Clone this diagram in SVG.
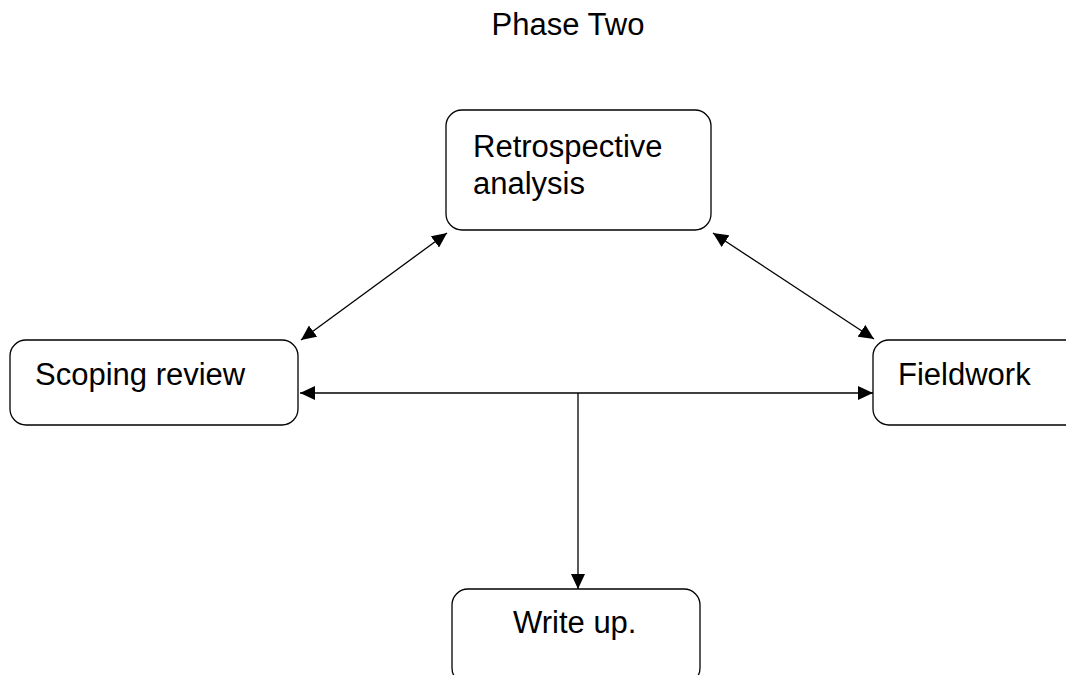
<svg xmlns="http://www.w3.org/2000/svg" width="1066" height="675" viewBox="0 0 1066 675">
<style>
.box{fill:#fff;stroke:#000;stroke-width:1.3}
.t{font-family:"Liberation Sans",Arial,sans-serif;font-size:31px;fill:#000}
.c{stroke:#000;stroke-width:1.3;fill:none}
</style>
<defs>
<marker id="ah" viewBox="0 0 15 14" refX="15" refY="7" markerWidth="15" markerHeight="14" markerUnits="userSpaceOnUse" orient="auto-start-reverse">
<path d="M0,0 L15,7 L0,14 z" fill="#000"/>
</marker>
</defs>
<rect width="1066" height="675" fill="#fff"/>
<text class="t" x="568" y="35" text-anchor="middle">Phase Two</text>
<g id="retro">
<rect class="box" x="446" y="110" width="265" height="120" rx="16"/>
<text class="t" x="473" y="157">Retrospective</text>
<text class="t" x="473" y="194">analysis</text>
</g>
<g id="scoping">
<rect class="box" x="10" y="340" width="288" height="85" rx="16"/>
<text class="t" x="35" y="385">Scoping review</text>
</g>
<g id="fieldwork">
<rect class="box" x="873" y="340" width="220" height="85" rx="16"/>
<text class="t" x="898" y="385">Fieldwork</text>
</g>
<g id="writeup">
<rect class="box" x="452" y="589" width="248" height="95" rx="16"/>
<text class="t" x="513" y="633">Write up.</text>
</g>
<g id="connectors">
<line class="c" x1="447" y1="233" x2="301" y2="340" marker-start="url(#ah)" marker-end="url(#ah)"/>
<line class="c" x1="713" y1="233" x2="874" y2="339" marker-start="url(#ah)" marker-end="url(#ah)"/>
<line class="c" x1="300" y1="393" x2="873" y2="393" marker-start="url(#ah)" marker-end="url(#ah)"/>
<line class="c" x1="578" y1="393" x2="578" y2="589" marker-end="url(#ah)"/>
</g>
</svg>
